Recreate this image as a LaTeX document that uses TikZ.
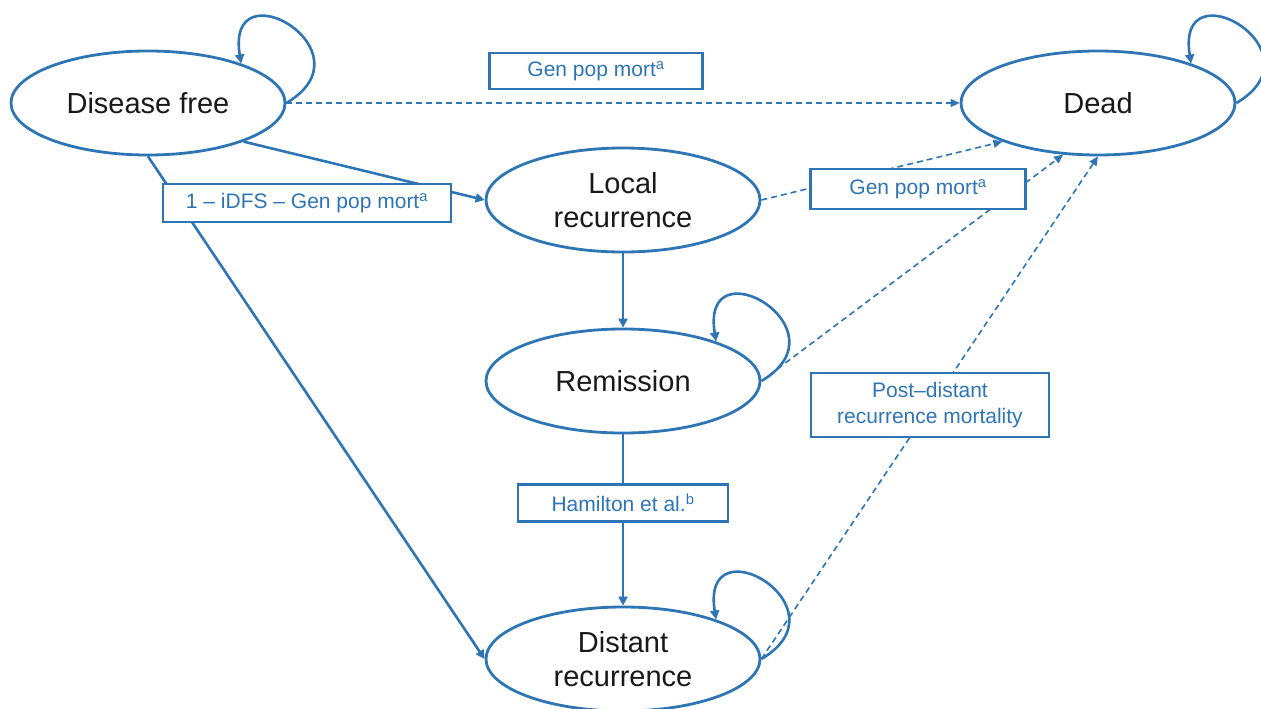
\documentclass[tikz,border=0pt]{standalone}
\usepackage{fontspec}
\setmainfont{Liberation Sans}
\usetikzlibrary{shapes.geometric,arrows.meta}
\definecolor{mblue}{RGB}{46,117,182}
\begin{document}
\begin{tikzpicture}[x=1pt,y=-1pt,
 state/.style={ellipse,draw=mblue,line width=2.8pt,fill=white,minimum width=274pt,minimum height=104pt,inner sep=0pt,align=center,font=\fontsize{29}{34}\selectfont,text=black!90},
 lab/.style={rectangle,draw=mblue,line width=2.6pt,fill=white,inner sep=0pt,align=center,font=\fontsize{21}{26}\selectfont,text=mblue},
 solidc/.style={draw=mblue,line width=2.6pt,-{Triangle[length=9pt,width=9pt]}},
 dashc/.style={draw=mblue,line width=1.6pt,dash pattern=on 6pt off 4pt,-{Triangle[length=9pt,width=8pt]}},
 selfloop/.style={draw=mblue,line width=2.6pt,-{Triangle[length=9pt,width=9pt]}}]
\useasboundingbox (0,0) rectangle (1261,709);

% states
\node[state] (df) at (148,103) {Disease free};
\node[state] (dead) at (1098,103) {Dead};
\node[state] (lr) at (623,200) {Local\\recurrence};
\node[state] (rem) at (623,381) {Remission};
\node[state] (dist) at (623,659) {Distant\\recurrence};

% connectors
\draw[dashc] (df.east) -- (dead.west);
\draw[solidc] (df.-22) -- (lr.west);
\draw[solidc] (df.south) -- (dist.west);
\draw[solidc] (lr.south) -- (rem.north);
\draw[solidc] (rem.south) -- (dist.north);
\draw[dashc] (lr.east) -- (dead.202);
\draw[dashc] (rem.east) -- (dead.236);
\draw[dashc] (dist.east) -- (dead.south);

% self loops
\draw[selfloop] (df.east) .. controls +(88,-52) and +(-16,-99) .. (df.23);
\draw[selfloop] (dead.east) .. controls +(88,-52) and +(-16,-99) .. (dead.23);
\draw[selfloop] (rem.east) .. controls +(88,-52) and +(-16,-99) .. (rem.23);
\draw[selfloop] (dist.east) .. controls +(88,-52) and +(-16,-99) .. (dist.23);

% labels
\node[lab,minimum width=213pt,minimum height=36pt] (l1) at (596,71) {Gen pop mort\textsuperscript{a}};
\node[lab,minimum width=288pt,minimum height=38pt] (l2) at (307,203) {1 -- iDFS -- Gen pop mort\textsuperscript{a}};
\node[lab,minimum width=215pt,minimum height=40pt] (l3) at (918,189) {Gen pop mort\textsuperscript{a}};
\node[lab,minimum width=238pt,minimum height=64pt] (l4) at (930,405) {Post--distant\\recurrence mortality};
\node[lab,minimum width=210pt,minimum height=37pt] (l5) at (623,503) {Hamilton et al.\textsuperscript{b}};
\end{tikzpicture}
\end{document}
